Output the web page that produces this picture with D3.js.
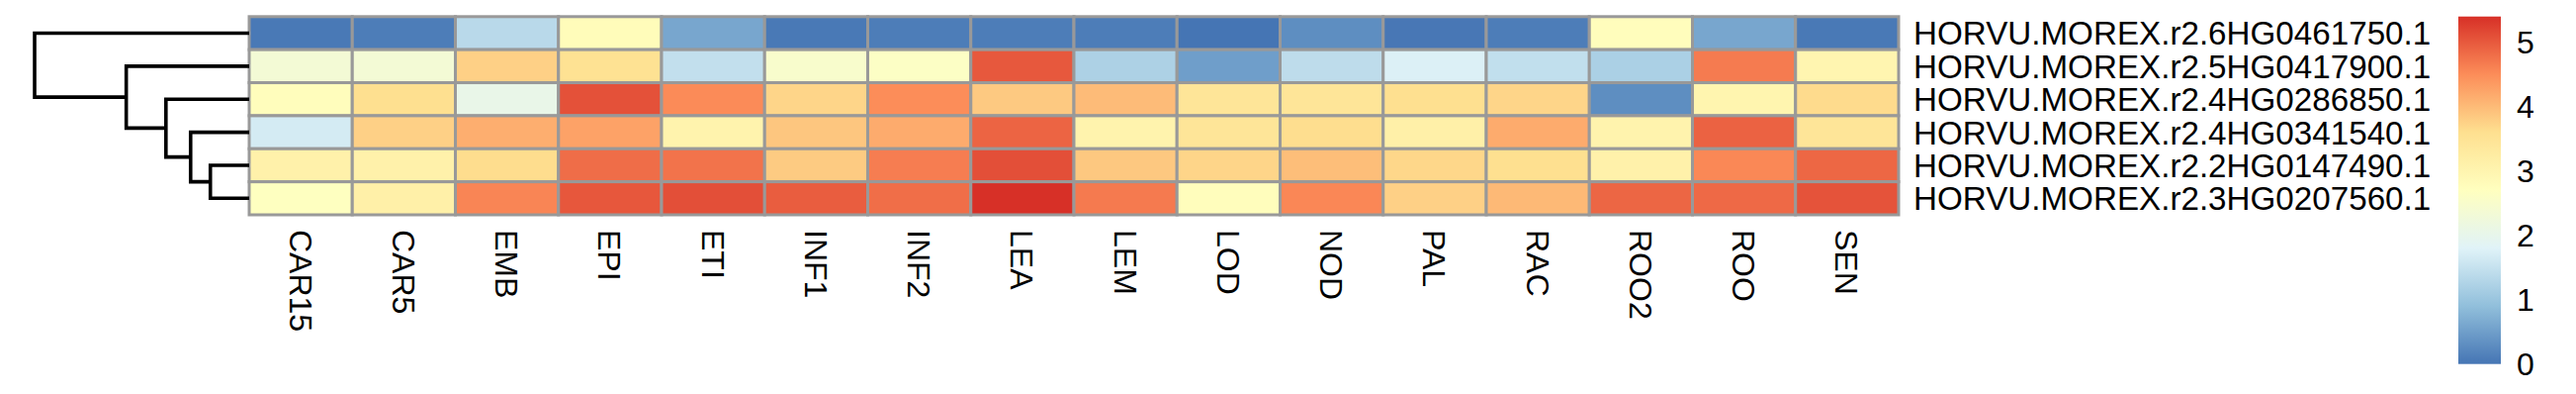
<!DOCTYPE html>
<meta charset="utf-8">

<style>

body {
  margin: 0;
  background: white;
}

text {
  font-family: "Liberation Sans", Arial, sans-serif;
  font-size: 32px;
  fill: black;
}

.rowLabel {
  font-size: 33.2px;
}

.cell {
  stroke: #999999;
  stroke-width: 3;
}

.dendro {
  fill: none;
  stroke: black;
  stroke-width: 3.6;
}

</style>

<svg id="heatmap"></svg>

<script src="https://cdn.jsdelivr.net/npm/d3@7"></script>

<script type="text/javascript">

const samples = ["CAR15", "CAR5", "EMB", "EPI", "ETI", "INF1", "INF2", "LEA",
  "LEM", "LOD", "NOD", "PAL", "RAC", "ROO2", "ROO", "SEN"]

const genes = [
  "HORVU.MOREX.r2.6HG0461750.1",
  "HORVU.MOREX.r2.5HG0417900.1",
  "HORVU.MOREX.r2.4HG0286850.1",
  "HORVU.MOREX.r2.4HG0341540.1",
  "HORVU.MOREX.r2.2HG0147490.1",
  "HORVU.MOREX.r2.3HG0207560.1"
]

//one row per gene, same order as samples
const row0 = [0.05, 0.1, 1.35, 2.8, 0.6, 0.05, 0.1, 0.1, 0.1, 0.0, 0.3, 0.03, 0.1, 2.75, 0.6, 0.05]
const row1 = [2.35, 2.35, 3.77, 3.55, 1.46, 2.5, 2.6, 5.01, 1.22, 0.5, 1.41, 1.75, 1.45, 1.2, 4.67, 2.99]
const row2 = [2.75, 3.6, 2.06, 5.08, 4.52, 3.72, 4.5, 3.85, 4.0, 3.45, 3.45, 3.6, 3.72, 0.3, 3.0, 3.65]
const row3 = [1.66, 3.77, 4.14, 4.27, 3.05, 3.88, 4.18, 4.9, 3.05, 3.45, 3.62, 3.15, 4.18, 3.05, 4.92, 3.45]
const row4 = [3.1, 3.1, 3.63, 4.81, 4.75, 3.83, 4.65, 5.1, 3.86, 3.72, 3.97, 3.7, 3.6, 3.1, 4.55, 4.87]
const row5 = [2.68, 3.15, 4.58, 5.02, 5.1, 4.96, 4.8, 5.4, 4.68, 2.75, 4.56, 3.77, 4.02, 4.88, 4.85, 5.06]
const values = [row0, row1, row2, row3, row4, row5]

//row clustering: [left, right, height], leaves are row indices, "n" refers to earlier merges
const merges = [
  [4, 5, 1.81],
  [3, "n0", 2.73],
  [2, "n1", 3.88],
  [1, "n2", 5.73],
  [0, "n3", 10.0]
]

const legendTicks = [0, 1, 2, 3, 4, 5]
const valueMin = 0, valueMax = 5.4

//rev(RdYlBu 7)
const palette = ["#4575B4", "#91BFDB", "#E0F3F8", "#FFFFBF", "#FEE090", "#FC8D59", "#D73027"]

const W = 2605, H = 398
const grid = {left: 252, right: 1920, top: 16.8, bottom: 217}

const svg = d3.select("#heatmap")
    .attr("width", W)
    .attr("height", H)

const x = d3.scaleBand()
  .domain(samples)
  .range([grid.left, grid.right])

const y = d3.scaleBand()
  .domain(d3.range(genes.length))
  .range([grid.top, grid.bottom])

const color = d3.scaleLinear()
  .domain(palette.map((c, i) => valueMin + i * (valueMax - valueMin) / (palette.length - 1)))
  .range(palette)
  .interpolate(d3.interpolateRgb)

//cells
const cells = []
values.forEach((r, i) => r.forEach((v, j) => cells.push({row: i, col: samples[j], v: v})))

svg.append("g")
  .selectAll("rect")
  .data(cells)
  .join("rect")
    .attr("class", "cell")
    .attr("x", d => x(d.col))
    .attr("y", d => y(d.row))
    .attr("width", x.bandwidth())
    .attr("height", y.bandwidth())
    .attr("fill", d => color(d.v))

//row labels
svg.append("g")
  .selectAll("text")
  .data(genes)
  .join("text")
    .attr("class", "rowLabel")
    .attr("x", grid.right + 15)
    .attr("y", (d, i) => y(i) + y.bandwidth() / 2)
    .attr("dy", "0.36em")
    .text(d => d)

//column labels, rotated
svg.append("g")
  .selectAll("text")
  .data(samples)
  .join("text")
    .attr("transform", d => `translate(${x(d) + x.bandwidth() / 2}, ${grid.bottom + 15}) rotate(90)`)
    .attr("dy", "0.36em")
    .text(d => d)

//dendrogram
const hx = d3.scaleLinear()
  .domain([0, d3.max(merges, m => m[2])])
  .range([grid.left, 35])

const nodes = {}
const pos = k => typeof k === "string" ? nodes[k] : {y: y(k) + y.bandwidth() / 2, h: 0}
const dendro = svg.append("g")

merges.forEach((m, i) => {
  const a = pos(m[0]), b = pos(m[1])
  const xm = hx(m[2])
  dendro.append("path")
    .attr("class", "dendro")
    .attr("d", `M${hx(a.h)},${a.y}H${xm}V${b.y}H${hx(b.h)}`)
  nodes["n" + i] = {y: (a.y + b.y) / 2, h: m[2]}
})

//colour legend
const ly = d3.scaleLinear()
  .domain([valueMin, valueMax])
  .range([367.7, 16.7])

const grad = svg.append("defs")
  .append("linearGradient")
    .attr("id", "legendGrad")
    .attr("x1", 0).attr("y1", 1)
    .attr("x2", 0).attr("y2", 0)

grad.selectAll("stop")
  .data(color.domain())
  .join("stop")
    .attr("offset", d => (d - valueMin) / (valueMax - valueMin))
    .attr("stop-color", d => color(d))

svg.append("rect")
    .attr("x", 2486)
    .attr("y", ly(valueMax))
    .attr("width", 43)
    .attr("height", ly(valueMin) - ly(valueMax))
    .attr("fill", "url(#legendGrad)")

svg.append("g")
  .selectAll("text")
  .data(legendTicks)
  .join("text")
    .attr("x", 2545)
    .attr("y", d => ly(d))
    .attr("dy", "0.36em")
    .text(d => d)

</script>
